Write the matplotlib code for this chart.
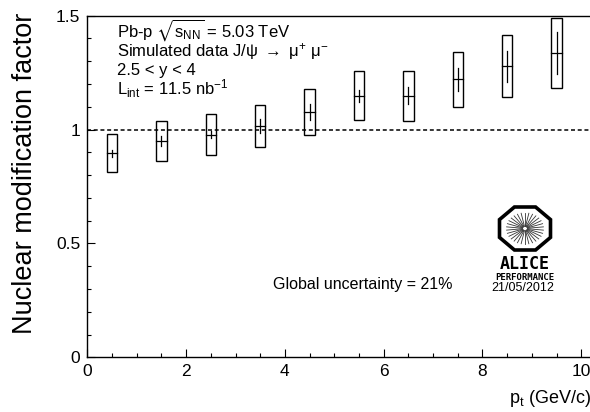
import numpy as np
import matplotlib
matplotlib.use("Agg")
import matplotlib.pyplot as plt
from matplotlib.patches import Rectangle, Polygon

plt.rcParams["font.family"] = ["Liberation Sans", "DejaVu Sans"]
plt.rcParams["mathtext.fontset"] = "custom"
plt.rcParams["mathtext.rm"] = "Liberation Sans"
plt.rcParams["mathtext.it"] = "Liberation Sans:italic"
plt.rcParams["mathtext.bf"] = "Liberation Sans:bold"
plt.rcParams["mathtext.fallback"] = "stixsans"

# J/psi nuclear modification factor vs transverse momentum
pt_centers = [0.5, 1.5, 2.5, 3.5, 4.5, 5.5, 6.5, 7.5, 8.5, 9.5]
rpa_values = [0.896, 0.950, 0.978, 1.016, 1.077, 1.148, 1.148, 1.220, 1.278, 1.336]
stat_errors = [0.015, 0.020, 0.015, 0.030, 0.035, 0.027, 0.037, 0.050, 0.068, 0.092]
syst_errors = [0.083, 0.088, 0.090, 0.093, 0.100, 0.108, 0.110, 0.121, 0.136, 0.152]

W, H = 590, 412
fig = plt.figure(figsize=(W / 100, H / 100), dpi=100)


def px(x, y):
    return x / W, 1 - y / H


x0_px, y0_px, y1_px = 87.3, 357.3, 15.7
px_per_unit = 49.4
xmax = 10.4
ax = fig.add_axes([x0_px / W, 1 - y0_px / H,
                   xmax * px_per_unit / W, (y0_px - y1_px) / H])
ax.set_xlim(0, xmax)
ax.set_ylim(0, 1.5)
ax.spines["right"].set_visible(False)
for s in ax.spines.values():
    s.set_linewidth(1.0)

ax.set_xticks([0, 2, 4, 6, 8, 10])
ax.set_xticks(np.arange(0, 10.01, 0.5), minor=True)
ax.set_yticks([0, 0.5, 1, 1.5])
ax.set_yticklabels(["0", "0.5", "1", "1.5"])
ax.set_yticks(np.arange(0, 1.51, 0.1), minor=True)
ax.tick_params(which="both", direction="in", top=False, right=False,
               width=0.8, labelsize=12.5)
ax.tick_params(which="major", length=6, pad=5)
ax.tick_params(which="minor", length=3.2)

ax.axhline(1.0, color="black", lw=1.1, ls=(0, (2.6, 1.8)), zorder=1)

half_w = 0.105
for x, y, st, sy in zip(pt_centers, rpa_values, stat_errors, syst_errors):
    ax.add_patch(Rectangle((x - half_w, y - sy), 2 * half_w, 2 * sy,
                           fill=False, edgecolor="black", lw=1.0, zorder=3))
    ax.plot([x, x], [y - st, y + st], color="black", lw=0.9, zorder=4)
    ax.plot([x - half_w, x + half_w], [y, y], color="black", lw=0.9, zorder=4)

fig.text(*px(25, 173.5), "Nuclear modification factor", fontsize=19.5,
         rotation=90, ha="center", va="center")

fig.text(*px(591, 403), r"p$_{\rm t}$ (GeV/c)", ha="right", va="baseline",
         fontsize=13)

tx = 117
fs_info = 12
fig.text(*px(tx, 36.5), r"Pb-p $\sqrt{\mathrm{s}_{\rm NN}}$ = 5.03 TeV",
         fontsize=fs_info, va="baseline")
fig.text(*px(tx, 56), r"Simulated data J/ψ $\rightarrow$ μ$^{+}$ μ$^{-}$",
         fontsize=fs_info, va="baseline")
fig.text(*px(tx, 75), "2.5 < y < 4", fontsize=fs_info, va="baseline")
fig.text(*px(tx, 94.3), r"L$_{\rm int}$ = 11.5 nb$^{-1}$", fontsize=fs_info,
         va="baseline")

fig.text(*px(273, 289), "Global uncertainty = 21%", fontsize=11.5,
         va="baseline")

# experiment logo
lw_px, lh_px = 56, 48
lcx, lcy = 525, 228.5
lax = fig.add_axes([(lcx - lw_px / 2) / W, 1 - (lcy + lh_px / 2) / H,
                    lw_px / W, lh_px / H])
lax.set_xlim(-lw_px / 2, lw_px / 2)
lax.set_ylim(-lh_px / 2, lh_px / 2)
lax.axis("off")
ang = np.deg2rad(22.5 + 45 * np.arange(8))
rx, ry = 25.5 / np.cos(np.deg2rad(22.5)), 21.5 / np.cos(np.deg2rad(22.5))
oct_pts = np.column_stack([rx * np.cos(ang), ry * np.sin(ang)])
lax.add_patch(Polygon(oct_pts, closed=True, fill=False, edgecolor="black",
                      lw=2.6, joinstyle="miter"))
for a in np.deg2rad(np.arange(0, 360, 12) + 6):
    lax.plot([2.5 * np.cos(a), 18.5 * np.cos(a)],
             [2.5 * np.sin(a) * ry / rx, 18.5 * np.sin(a) * ry / rx],
             color="#333333", lw=0.6)

fig.text(*px(525, 264), "ALICE", family="DejaVu Sans Mono", weight="bold",
         fontsize=12, ha="center", va="center")
fig.text(*px(525, 277.5), "PERFORMANCE", family="DejaVu Sans Mono",
         weight="bold", fontsize=6.5, ha="center", va="center")
fig.text(*px(523, 288), "21/05/2012", fontsize=9, ha="center", va="center")

fig.savefig("out.png", dpi=100)
